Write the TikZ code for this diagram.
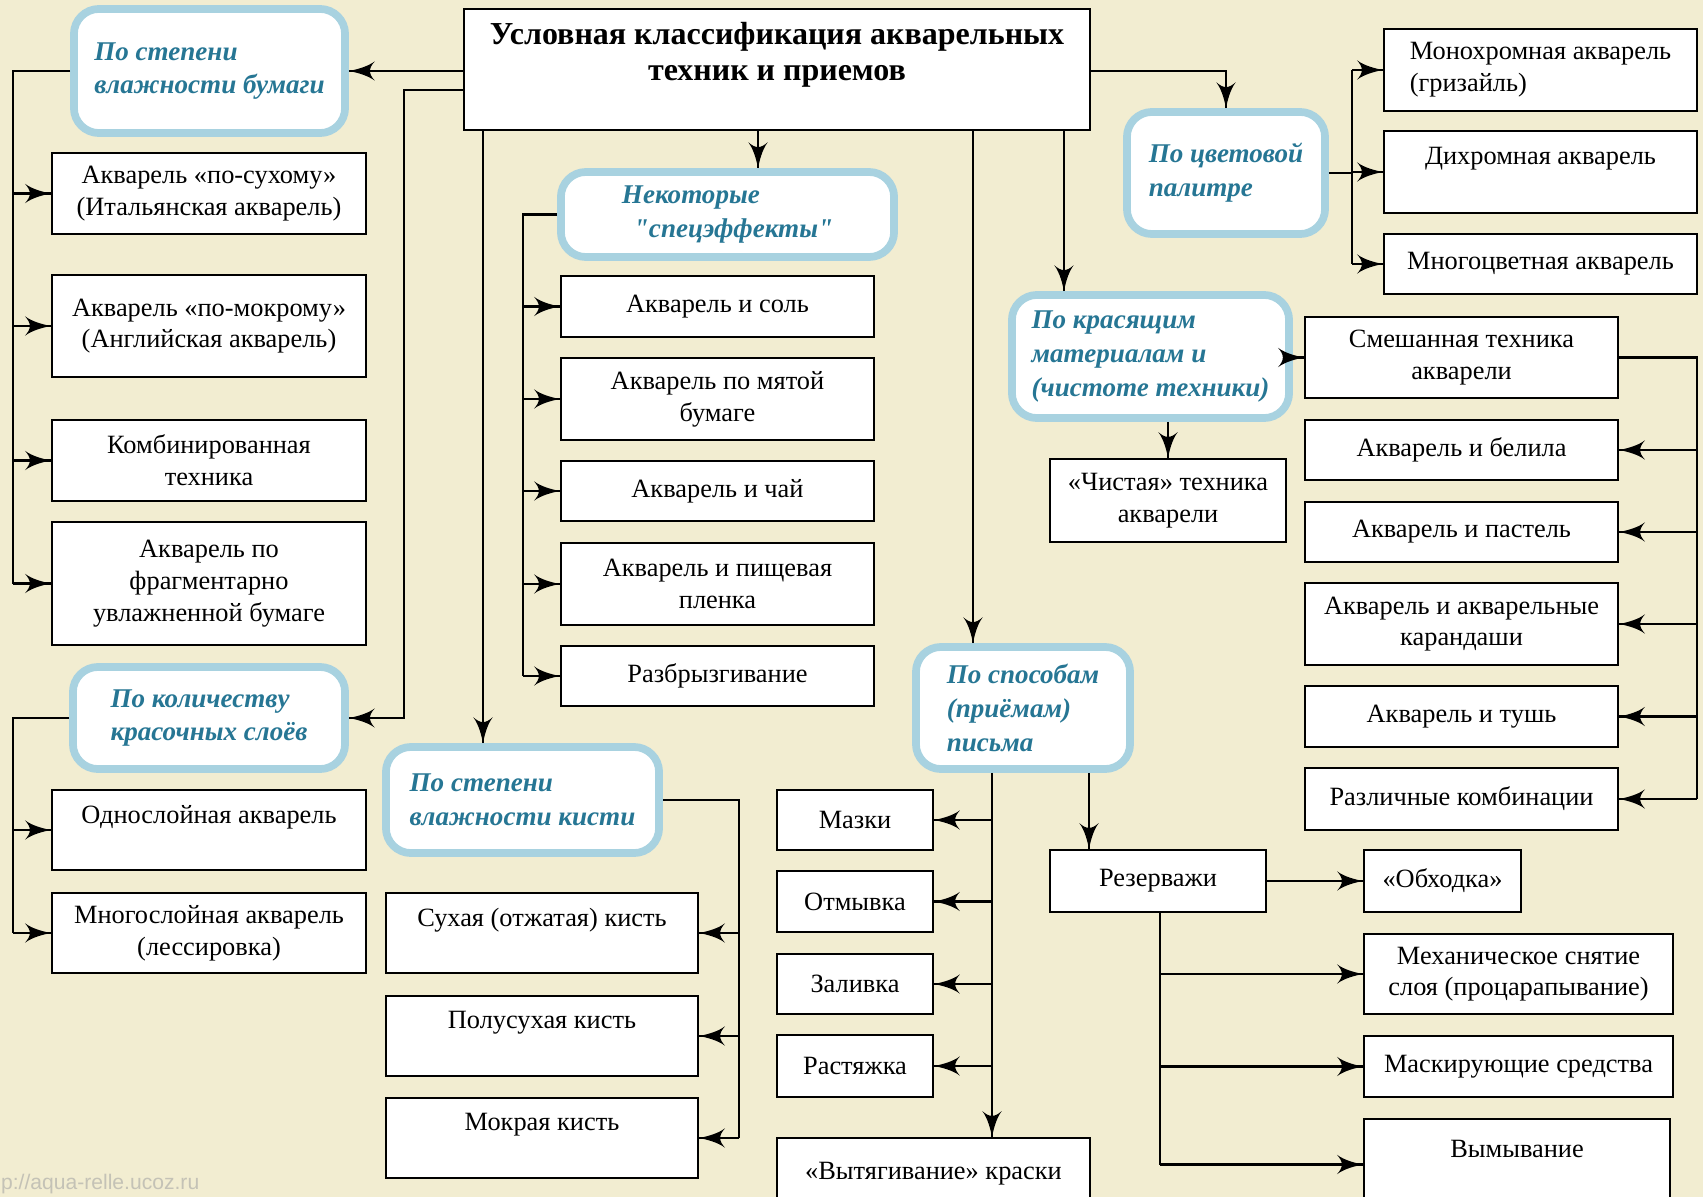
\documentclass[tikz,border=0pt]{standalone}
\usepackage{fontspec}
\setmainfont{Liberation Serif}
\setsansfont{Liberation Sans}
\usetikzlibrary{arrows}
\usetikzlibrary{decorations.markings}
\newcommand{\leaffont}{\fontsize{7.5}{9}\selectfont}
\newcommand{\catfont}{\fontsize{7.7}{9.6}\selectfont\bfseries\itshape}
\newcommand{\titlefont}{\fontsize{9.1}{10.4}\selectfont\bfseries}
\definecolor{bgcream}{RGB}{242,237,209}
\definecolor{catline}{RGB}{168,210,224}
\definecolor{cattext}{RGB}{38,118,148}
\definecolor{wmgray}{RGB}{196,194,182}
\tikzset{->/.style = {decoration={markings,
                                  mark=at position 1 with {\arrow[scale=1.6]{latex'}}},
                      postaction={decorate}}}
\tikzset{leaf/.style = {draw, fill=white, line width=0.6pt, align=center, inner sep=0, font=\leaffont}}
\tikzset{cat/.style = {draw=catline, line width=2.2pt, rounded corners=0.25cm, fill=white,
                       align=left, inner sep=0, text=cattext, font=\catfont}}

\begin{document}
\begin{tikzpicture}[x=0.01cm, y=-0.01cm, line width=0.6pt]
      \useasboundingbox (0,0) rectangle (1703,1197);
      \fill [bgcream] (0,0) rectangle (1703,1197);

      % title
      \node [leaf, minimum width=6.26cm, minimum height=1.21cm, font=\titlefont] (main) at (777,69.5)
        {Условная классификация акварельных\\ техник и приемов\\ ~};

      % groups
      \node [cat, minimum width=2.71cm, minimum height=1.24cm] (paper) at (209.5,71) {По степени\\ влажности бумаги};
      \node [cat, minimum width=3.33cm, minimum height=0.85cm] (effects) at (727.5,214.5) {Некоторые\\ \hspace*{0.12cm}\textquotedbl спецэффекты\textquotedbl};
      \node [cat, minimum width=1.98cm, minimum height=1.22cm] (palette) at (1226,173) {По цветовой\\ палитре};
      \node [cat, minimum width=2.77cm, minimum height=1.23cm] (material) at (1150.5,356.5) {По красящим\\ материалам и\\ (чистоте техники)};
      \node [cat, minimum width=2.72cm, minimum height=1.02cm] (layers) at (209,718) {По количеству\\ красочных слоёв};
      \node [cat, minimum width=2.73cm, minimum height=1.06cm] (brush) at (522.5,800) {По степени\\ влажности кисти};
      \node [cat, minimum width=2.14cm, minimum height=1.22cm] (manner) at (1023,708) {По способам\\ (приёмам)\\ письма};

      % paper
      \node [leaf, minimum width=3.14cm, minimum height=0.81cm] (dry) at (209,193.5) {Акварель «по-сухому»\\ (Итальянская акварель)};
      \node [leaf, minimum width=3.14cm, minimum height=1.02cm] (wet) at (209,326) {Акварель «по-мокрому»\\ (Английская акварель)};
      \node [leaf, minimum width=3.14cm, minimum height=0.81cm] (combined) at (209,460.5) {Комбинированная\\ техника};
      \node [leaf, minimum width=3.14cm, minimum height=1.23cm] (fragment) at (209,583.5) {Акварель по\\ фрагментарно\\ увлажненной бумаге};
      \node [leaf, minimum width=3.14cm, minimum height=0.80cm] (single) at (209,830) {Однослойная акварель\\ ~};
      \node [leaf, minimum width=3.14cm, minimum height=0.80cm] (multi) at (209,933) {Многослойная акварель\\ (лессировка)};

      % effects
      \node [leaf, minimum width=3.13cm, minimum height=0.61cm] (salt) at (717.5,306.5) {Акварель и соль};
      \node [leaf, minimum width=3.13cm, minimum height=0.82cm] (crumpled) at (717.5,399) {Акварель по мятой\\ бумаге};
      \node [leaf, minimum width=3.13cm, minimum height=0.60cm] (tea) at (717.5,491) {Акварель и чай};
      \node [leaf, minimum width=3.13cm, minimum height=0.82cm] (film) at (717.5,584) {Акварель и пищевая\\ пленка};
      \node [leaf, minimum width=3.13cm, minimum height=0.60cm] (splash) at (717.5,676) {Разбрызгивание};

      % brush
      \node [leaf, minimum width=3.12cm, minimum height=0.80cm] (drybrush) at (542,933) {Сухая (отжатая) кисть\\ ~};
      \node [leaf, minimum width=3.12cm, minimum height=0.80cm] (halfbrush) at (542,1036) {Полусухая кисть\\ ~};
      \node [leaf, minimum width=3.12cm, minimum height=0.80cm] (wetbrush) at (542,1138) {Мокрая кисть\\ ~};

      % palette
      \node [leaf, minimum width=3.13cm, minimum height=0.82cm, align=left] (mono) at (1540.5,70) {Монохромная акварель\\ (гризайль)};
      \node [leaf, minimum width=3.13cm, minimum height=0.82cm, align=left] (dichro) at (1540.5,172) {Дихромная акварель\\ ~};
      \node [leaf, minimum width=3.13cm, minimum height=0.60cm] (poly) at (1540.5,264) {Многоцветная акварель};

      % materials
      \node [leaf, minimum width=2.36cm, minimum height=0.83cm] (pure) at (1168,500.5) {«Чистая» техника\\ акварели};
      \node [leaf, minimum width=3.13cm, minimum height=0.81cm] (mixed) at (1461.5,357.5) {Смешанная техника\\ акварели};
      \node [leaf, minimum width=3.13cm, minimum height=0.60cm] (whites) at (1461.5,450) {Акварель и белила};
      \node [leaf, minimum width=3.13cm, minimum height=0.60cm] (pastel) at (1461.5,532) {Акварель и пастель};
      \node [leaf, minimum width=3.13cm, minimum height=0.82cm] (pencil) at (1461.5,624) {Акварель и акварельные\\ карандаши};
      \node [leaf, minimum width=3.13cm, minimum height=0.61cm] (ink) at (1461.5,716.5) {Акварель и тушь};
      \node [leaf, minimum width=3.13cm, minimum height=0.62cm] (various) at (1461.5,799) {Различные комбинации};

      % manner
      \node [leaf, minimum width=1.56cm, minimum height=0.60cm] (strokes) at (855,820) {Мазки};
      \node [leaf, minimum width=1.56cm, minimum height=0.61cm] (washout) at (855,901.5) {Отмывка};
      \node [leaf, minimum width=1.56cm, minimum height=0.60cm] (flood) at (855,984) {Заливка};
      \node [leaf, minimum width=1.56cm, minimum height=0.62cm] (stretch) at (855,1066) {Растяжка};
      \node [leaf, minimum width=3.13cm, minimum height=0.72cm] (lift) at (933.5,1174) {«Вытягивание» краски};
      \node [leaf, minimum width=2.16cm, minimum height=0.62cm] (reserve) at (1158,881) {Резерважи};
      \node [leaf, minimum width=1.57cm, minimum height=0.62cm] (bypass) at (1442.5,881) {«Обходка»};
      \node [leaf, minimum width=3.09cm, minimum height=0.80cm] (scratch) at (1518.5,974) {Механическое снятие\\ слоя (процарапывание)};
      \node [leaf, minimum width=3.09cm, minimum height=0.61cm] (masking) at (1518.5,1066.5) {Маскирующие средства};
      \node [leaf, minimum width=3.06cm, minimum height=0.91cm] (washing) at (1517,1164.5) {Вымывание\\ ~};

      \node [anchor=south west, inner sep=0, text=wmgray, font=\fontsize{6}{7}\selectfont\sffamily] (wmark) at (0,1195) {p://aqua-relle.ucoz.ru};

      % from the title
      \coordinate (bendL) at (404,90);
      \coordinate (inB) at ([xshift=-0.395cm]brush.north);
      \coordinate (inE) at ([xshift=0.305cm]effects.north);
      \coordinate (inM) at ([xshift=-0.5cm]manner.north);
      \coordinate (inC) at ([xshift=-0.865cm]material.north);
      \draw [->] (main.west |- paper.east) -- (paper.east);
      \draw [->] (main.west |- bendL) -- (bendL) |- (layers.east);
      \draw [->] (main.south -| inB) -- (inB);
      \draw [->] (main.south -| inE) -- (inE);
      \draw [->] (main.south -| inM) -- (inM);
      \draw [->] (main.south -| inC) -- (inC);
      \draw [->] (main.east |- paper.east) -| (palette.north);

      % left buses
      \coordinate (busP) at (13,0);
      \draw (paper.west) -| (busP |- fragment.west);
      \foreach \n in {dry, wet, combined, fragment} {
        \draw [->] (busP |- \n.west) -- (\n.west);
      }
      \draw (layers.west) -| (busP |- multi.west);
      \foreach \n in {single, multi} {
        \draw [->] (busP |- \n.west) -- (\n.west);
      }

      \coordinate (busE) at (523,0);
      \draw (effects.west) -| (busE |- splash.west);
      \foreach \n in {salt, crumpled, tea, film, splash} {
        \draw [->] (busE |- \n.west) -- (\n.west);
      }

      \coordinate (busB) at (739,0);
      \draw (brush.east) -| (busB |- wetbrush.east);
      \foreach \n in {drybrush, halfbrush, wetbrush} {
        \draw [->] (busB |- \n.east) -- (\n.east);
      }

      % right buses
      \coordinate (busC) at (1352,0);
      \draw (palette.east) -- (busC |- palette.east);
      \draw (busC |- mono.west) -- (busC |- poly.west);
      \foreach \n in {mono, dichro, poly} {
        \draw [->] (busC |- \n.west) -- (\n.west);
      }

      \draw [->] (material.east |- mixed.west) -- (mixed.west);
      \draw [->] (material.south -| pure.north) -- (pure.north);
      \coordinate (busR) at (1697,0);
      \draw (mixed.east) -| (busR |- various.east);
      \foreach \n in {whites, pastel, pencil, ink, various} {
        \draw [->] (busR |- \n.east) -- (\n.east);
      }

      \coordinate (busW) at (992,0);
      \draw [->] (manner.south -| busW) -- (lift.north -| busW);
      \foreach \n in {strokes, washout, flood, stretch} {
        \draw [->] (busW |- \n.east) -- (\n.east);
      }
      \coordinate (busZ) at (1089,0);
      \draw [->] (manner.south -| busZ) -- (reserve.north -| busZ);
      \draw [->] (reserve.east) -- (bypass.west);
      \coordinate (busY) at (1160,0);
      \draw (reserve.south -| busY) -- (busY |- washing.west);
      \foreach \n in {scratch, masking, washing} {
        \draw [->] (busY |- \n.west) -- (\n.west);
      }
\end{tikzpicture}
\end{document}
